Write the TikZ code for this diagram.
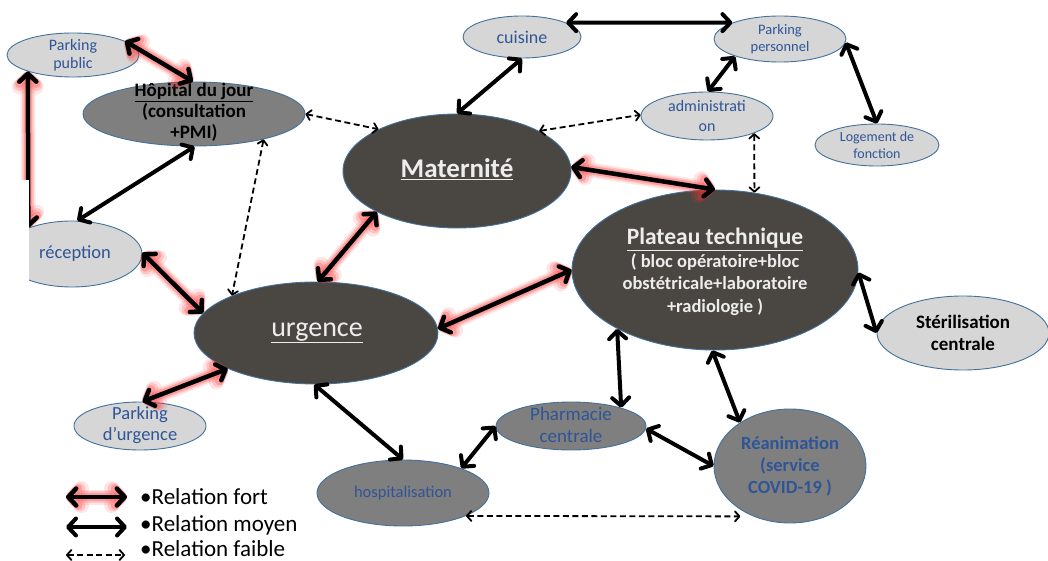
\documentclass[tikz,border=0pt]{standalone}
\usepackage{fontspec}
\setmainfont{Carlito}
\usetikzlibrary{arrows.meta,shapes.geometric}

\definecolor{lightfill}{HTML}{D6D6D6}
\definecolor{midfill}{HTML}{7F7F7F}
\definecolor{darkfill}{HTML}{4A4743}
\definecolor{rim}{HTML}{41719C}
\definecolor{bluetxt}{HTML}{2F5597}
\definecolor{paletxt}{HTML}{EDEDED}
\definecolor{glow}{HTML}{FF3030}

\tikzset{
  nd/.style={ellipse, draw=rim, line width=0.9pt, inner sep=0pt},
  light/.style={nd, fill=lightfill},
  mid/.style={nd, fill=midfill},
  dark/.style={nd, fill=darkfill},
  bt/.style={align=center, text=bluetxt, inner sep=0pt},
  kt/.style={align=center, text=black, inner sep=0pt},
  pt/.style={align=center, text=paletxt, inner sep=0pt},
  barb/.tip={Straight Barb[length=8pt,width=17pt,round]},
  smallbarb/.tip={Straight Barb[length=4.5pt,width=10pt,round]},
  moyen/.style={draw=black, line width=4pt, barb-barb},
  fort/.style={draw=black, line width=4.5pt, barb-barb,
    preaction={draw=glow, opacity=0.12, line width=15pt, barb-barb},
    preaction={draw=glow, opacity=0.18, line width=11.5pt, barb-barb},
    preaction={draw=glow, opacity=0.28, line width=8.5pt, barb-barb}},
  faible/.style={draw=black, line width=1.8pt, dash pattern=on 6pt off 3.5pt,
    smallbarb-smallbarb},
  legendtext/.style={anchor=base west, inner sep=0pt,
    font=\fontsize{23}{27}\selectfont}
}

\begin{document}
\begin{tikzpicture}[x=1pt,y=-1pt]
\useasboundingbox (0,0) rectangle (1048,561);

% ---- services (ellipses) ----
\node[light, minimum width=132, minimum height=44] (pp) at (73,55) {};
\node[bt, font=\fontsize{16}{18.5}\selectfont] (ppt) at (pp) {Parking\\public};

\node[mid, minimum width=222, minimum height=64] (hj) at (194,114) {};
\node[kt, font=\bfseries\fontsize{19}{21}\selectfont] (hjt) at (194,112)
  {\underline{Hôpital du jour}\\(consultation\\+PMI)};

\node[light, minimum width=118, minimum height=42] (cu) at (522,37) {};
\node[bt, font=\fontsize{18}{20}\selectfont] (cut) at (cu) {cuisine};

\node[dark, minimum width=228, minimum height=114] (ma) at (457,171) {};
\node[pt, font=\bfseries\fontsize{27}{30}\selectfont] (mat) at (457,169)
  {\underline{Maternité}};

\node[light, minimum width=132, minimum height=46] (pe) at (780,39) {};
\node[bt, font=\fontsize{14.5}{17}\selectfont] (pet) at (pe) {Parking\\personnel};

\node[light, minimum width=132, minimum height=48] (ad) at (707,116) {};
\node[bt, font=\fontsize{16}{20}\selectfont] (adt) at (ad) {administrati\\on};

\node[light, minimum width=124, minimum height=42] (lo) at (877,145) {};
\node[bt, font=\fontsize{14}{17}\selectfont] (lot) at (lo) {Logement de\\fonction};

\node[dark, minimum width=286, minimum height=160] (pla) at (715,270) {};
\node[pt, font=\bfseries\fontsize{18.5}{22.5}\selectfont] (plat) at (715,272)
  {{\fontsize{23.5}{26}\selectfont\underline{Plateau technique}}\\
   ( bloc opératoire+bloc\\obstétricale+laboratoire\\+radiologie )};

\node[light, minimum width=172, minimum height=74] (st) at (963,333) {};
\node[kt, font=\bfseries\fontsize{19}{22}\selectfont] (stt) at (st)
  {Stérilisation\\centrale};

\node[light, minimum width=140, minimum height=66] (re) at (72,254) {};
\node[bt, font=\fontsize{18.5}{21}\selectfont] (ret) at (75,254) {réception};

\node[dark, minimum width=244, minimum height=102] (ur) at (316,333) {};
\node[pt, font=\fontsize{28}{30}\selectfont] (urt) at (317,333)
  {\underline{urgence}};

\node[light, minimum width=132, minimum height=48] (pu) at (140,426) {};
\node[bt, font=\fontsize{18.5}{21}\selectfont] (put) at (140,425)
  {Parking\\d’urgence};

\node[mid, minimum width=172, minimum height=66] (ho) at (403,493) {};
\node[bt, font=\fontsize{16.5}{19}\selectfont] (hot) at (ho) {hospitalisation};

\node[mid, minimum width=150, minimum height=48] (ph) at (571,426) {};
\node[bt, font=\fontsize{19}{22}\selectfont] (pht) at (571,425)
  {Pharmacie\\centrale};

\node[mid, minimum width=152, minimum height=114] (rn) at (790,466) {};
\node[bt, font=\bfseries\fontsize{18.5}{22}\selectfont] (rnt) at (rn)
  {Réanimation\\(service\\COVID-19 )};

% ---- strong relations ----
\draw[fort] (pp.15) -- (hj.92);
\draw[fort] (pp.200) -- (re.149);
\draw[fort] (re.1) -- (ur.170);
\draw[fort] (ur.88) -- (ma.207);
\draw[fort] (ur.2) -- (pla.180);
\draw[fort] (ur.202) -- (pu.84);
\draw[fort] (ma.2) -- (pla.90);

% ---- medium relations ----
\draw[moyen] (cu.270) -- (ma.90);
\draw[moyen] (cu.18) -- (pe.161);
\draw[moyen] (pe.201) -- (ad.88);
\draw[moyen] (pe.-3) -- (lo.90);
\draw[moyen] (hj.271) -- (re.81);
\draw[moyen] (pla.-1) -- (st.180);
\draw[moyen] (pla.211) -- (ph.20);
\draw[moyen] (pla.268) -- (rn.139);
\draw[moyen] (ph.-2) -- (rn.180);
\draw[moyen] (ph.180) -- (ho.23);
\draw[moyen] (ur.268) -- (ho.90);

% ---- weak relations ----
\draw[faible] (hj.0) -- (ma.152);
\draw[faible] (hj.-20) -- (ur.156);
\draw[faible] (ma.26) -- (ad.179);
\draw[faible] (ad.-20) -- (pla.63);
\draw[faible, shorten >=13pt] (ho.-20) -- (rn.234);

% ---- white patch on the left margin ----
\fill[white] (0,180) rectangle (29,300);

% ---- legend ----
\coordinate (lf1) at (66,497);  \coordinate (lf2) at (127,497);
\coordinate (lm1) at (66,527);  \coordinate (lm2) at (127,527);
\coordinate (lw1) at (66,555);  \coordinate (lw2) at (125,555);
\draw[fort] (lf1) -- (lf2);
\draw[moyen] (lm1) -- (lm2);
\draw[faible] (lw1) -- (lw2);
\node[legendtext] (lgf) at (140,504) {•Relation fort};
\node[legendtext] (lgm) at (140,531) {•Relation moyen};
\node[legendtext] (lgw) at (140,556) {•Relation faible};
\end{tikzpicture}
\end{document}
